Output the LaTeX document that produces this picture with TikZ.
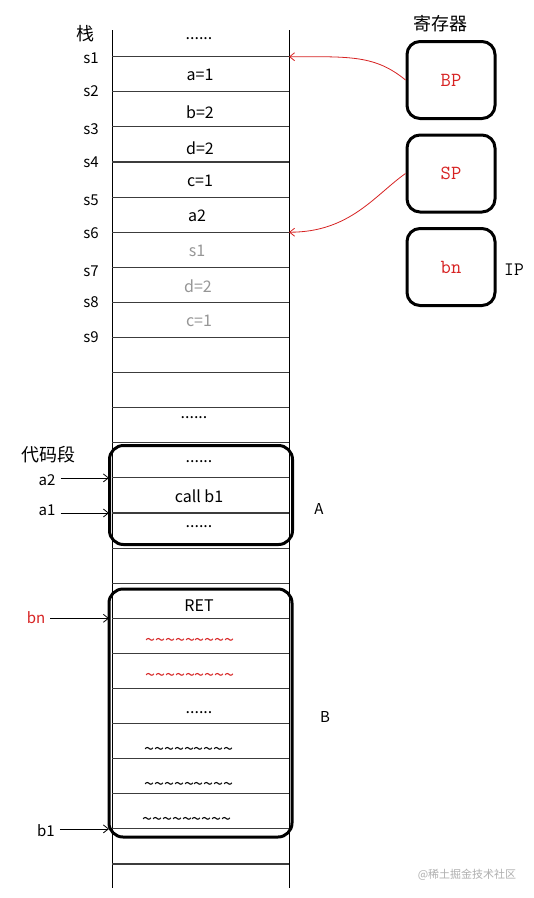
\documentclass[tikz,border=0pt]{standalone}
\usepackage{fontspec}
\setmainfont{Noto Sans CJK SC}
\usetikzlibrary{arrows.meta}
\definecolor{regred}{RGB}{215,35,35}
\definecolor{ghost}{RGB}{150,150,150}
\definecolor{rowgray}{RGB}{60,60,60}
\definecolor{wmark}{RGB}{175,175,175}
\tikzset{
  rowline/.style={draw=rowgray, line width=1.1pt},
  colline/.style={draw=black, line width=0.9pt},
  celltxt/.style={inner sep=0pt, font=\fontsize{16}{18}\selectfont},
  ghosttxt/.style={celltxt, text=ghost},
  slabel/.style={inner sep=0pt, font=\fontsize{15}{17}\selectfont},
  regbox/.style={draw=black, line width=3pt, rounded corners=13pt, minimum width=88pt, minimum height=77pt},
  regtxt/.style={inner sep=0pt, text=regred, font=\ttfamily\fontsize{20}{22}\selectfont},
  codebox/.style={draw=black, line width=3pt, rounded corners=14pt},
  ptr/.style={draw=black, line width=0.8pt, -{Straight Barb[length=5pt,width=8pt]}},
  redptr/.style={draw=regred, line width=0.8pt, -{Straight Barb[length=5pt,width=8pt]}},
  tilde/.style={inner sep=0pt, font=\fontsize{18}{20}\selectfont}
}
\newcommand{\tildes}{\textasciitilde\textasciitilde\textasciitilde\textasciitilde\textasciitilde\textasciitilde\textasciitilde\textasciitilde\textasciitilde}
\begin{document}
\begin{tikzpicture}[x=1pt,y=-1pt]
\useasboundingbox (0,0) rectangle (534,898);
\fill[white] (0,0) rectangle (534,898);
% column
\coordinate (colTL) at (112,30);
\coordinate (colBL) at (112,888);
\coordinate (colTR) at (289,30);
\coordinate (colBR) at (289,888);
\draw[colline] (colTL) -- (colBL);
\draw[colline] (colTR) -- (colBR);
\foreach \k in {0,...,23} {
  \coordinate (L\k) at (112,{56.7+35.1*\k});
  \coordinate (R\k) at (289,{56.7+35.1*\k});
  \draw[rowline] (L\k) -- (R\k);
}
% stack title and labels
\node[inner sep=0pt, font=\fontsize{18}{20}\selectfont] (zhan) at (85,34) {栈};
\node[slabel] (s1) at (91,58) {s1};
\node[slabel] (s2) at (91,91) {s2};
\node[slabel] (s3) at (91,129) {s3};
\node[slabel] (s4) at (91,162) {s4};
\node[slabel] (s5) at (91,200) {s5};
\node[slabel] (s6) at (91,233) {s6};
\node[slabel] (s7) at (91,271) {s7};
\node[slabel] (s8) at (91,302) {s8};
\node[slabel] (s9) at (91,337) {s9};
% stack cells
\node[celltxt] (c0) at (199,39) {......};
\node[celltxt] (c1) at (200,75) {a=1};
\node[celltxt] (c2) at (200,112) {b=2};
\node[celltxt] (c3) at (200,148) {d=2};
\node[celltxt] (c4) at (200,181) {c=1};
\node[celltxt] (c5) at (197,216) {a2};
\node[ghosttxt] (c6) at (197,251) {s1};
\node[ghosttxt] (c7) at (198,286) {d=2};
\node[ghosttxt] (c8) at (199,321) {c=1};
\node[celltxt] (c10) at (194,418) {......};
% registers
\node[inner sep=0pt, font=\fontsize{18}{20}\selectfont] (regt) at (440,24) {寄存器};
\node[regbox] (bp) at (451,80) {};
\node[regbox] (sp) at (451,173.5) {};
\node[regbox] (ip) at (451,267) {};
\node[regtxt] (bpt) at (bp.center) {BP};
\node[regtxt] (spt) at (sp.center) {SP};
\node[regtxt] (ipt) at (ip.center) {bn};
\node[inner sep=0pt, font=\ttfamily\fontsize{19}{21}\selectfont] (iplab) at (514,270) {IP};
\draw[redptr] (bp.west) .. controls (375,55) and (350,56.7) .. (R0);
\draw[redptr] (sp.west) .. controls (375,195) and (350,232.2) .. (R5);
% code segment A
\node[inner sep=0pt, font=\fontsize{18}{20}\selectfont] (code) at (48,455) {代码段};
\node[codebox, minimum width=183pt, minimum height=99pt] (A) at (201,495) {};
\node[celltxt] (a0) at (199,462) {......};
\node[celltxt] (a1c) at (199,496) {call b1};
\node[celltxt] (a2c) at (199,527) {......};
\node[slabel] (Alab) at (319,509) {A};
\node[slabel] (la2) at (47,480) {a2};
\node[slabel] (la1) at (47,510) {a1};
\draw[ptr] ([xshift=5pt]la2.east |- L12) -- ([xshift=-3pt]L12);
\draw[ptr] ([xshift=5pt]la1.east |- L13) -- ([xshift=-3pt]L13);
% code segment B
\node[codebox, minimum width=183pt, minimum height=248pt] (B) at (200.5,713) {};
\node[celltxt] (b0) at (199,606) {RET};
\node[tilde, text=regred] (b1c) at (190,642) {\tildes};
\node[tilde, text=regred] (b2c) at (190,677) {\tildes};
\node[celltxt] (b3c) at (199,713) {......};
\node[tilde] (b4c) at (189,751) {\tildes};
\node[tilde] (b5c) at (189,786) {\tildes};
\node[tilde] (b6c) at (187,821) {\tildes};
\node[slabel] (Blab) at (325,717) {B};
\node[slabel, text=regred] (lbn) at (36,618) {bn};
\node[slabel] (lb1) at (46,831) {b1};
\draw[ptr] ([xshift=5pt]lbn.east |- L16) -- ([xshift=-3pt]L16);
\draw[ptr] ([xshift=5pt]lb1.east |- L22) -- ([xshift=-3pt]L22);
% watermark
\node[inner sep=0pt, text=wmark, font=\fontsize{11}{13}\selectfont] (wm) at (467,875) {@稀土掘金技术社区};
\end{tikzpicture}
\end{document}
